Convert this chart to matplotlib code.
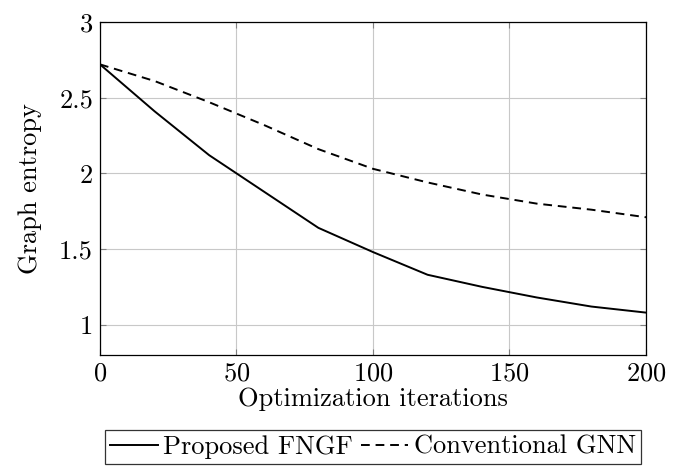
import matplotlib
matplotlib.use("Agg")
import matplotlib.pyplot as plt

plt.rcParams["font.family"] = "serif"
plt.rcParams["font.serif"] = ["cmr10"]
plt.rcParams["axes.formatter.use_mathtext"] = True
plt.rcParams["mathtext.fontset"] = "cm"

# data
iters = [0, 20, 40, 60, 80, 100, 120, 140, 160, 180, 200]
fngf = [2.72, 2.41, 2.12, 1.88, 1.64, 1.48, 1.33, 1.25, 1.18, 1.12, 1.08]
gnn = [2.72, 2.61, 2.47, 2.32, 2.16, 2.03, 1.94, 1.86, 1.80, 1.76, 1.71]

xticks = [0, 50, 100, 150, 200]
yticks = [1, 1.5, 2, 2.5, 3]
yticklabels = ["1", "1.5", "2", "2.5", "3"]

fs = 19

fig = plt.figure(figsize=(6.9, 4.69), dpi=100)
ax = fig.add_axes([0.1449, 0.2431, 0.7913, 0.7100])

ax.plot(iters, fngf, color="k", lw=1.4, label="Proposed FNGF")
ax.plot(iters, gnn, color="k", lw=1.4, ls=(0, (4.5, 3)), label="Conventional GNN")

ax.set_xlim(0, 200)
ax.set_ylim(0.8, 3)
ax.set_xticks(xticks)
ax.set_yticks(yticks)
ax.set_yticklabels(yticklabels)
ax.grid(True, color="#c8c8c8", lw=0.8)
ax.tick_params(direction="in", length=4, color="#808080", top=True, right=True,
               labelsize=fs, pad=5)
for s in ax.spines.values():
    s.set_linewidth(0.9)

ax.set_xlabel("Optimization iterations", fontsize=fs, labelpad=1)
ax.set_ylabel("Graph entropy", fontsize=fs, labelpad=12)

leg = ax.legend(loc="upper center", bbox_to_anchor=(0.5, -0.225), ncol=2,
                fontsize=fs, frameon=True, fancybox=False, edgecolor="k",
                handlelength=1.8, handletextpad=0.2, columnspacing=0.3,
                borderpad=0.2, borderaxespad=0)
leg.get_frame().set_linewidth(0.9)

fig.savefig("out.png", dpi=100)
